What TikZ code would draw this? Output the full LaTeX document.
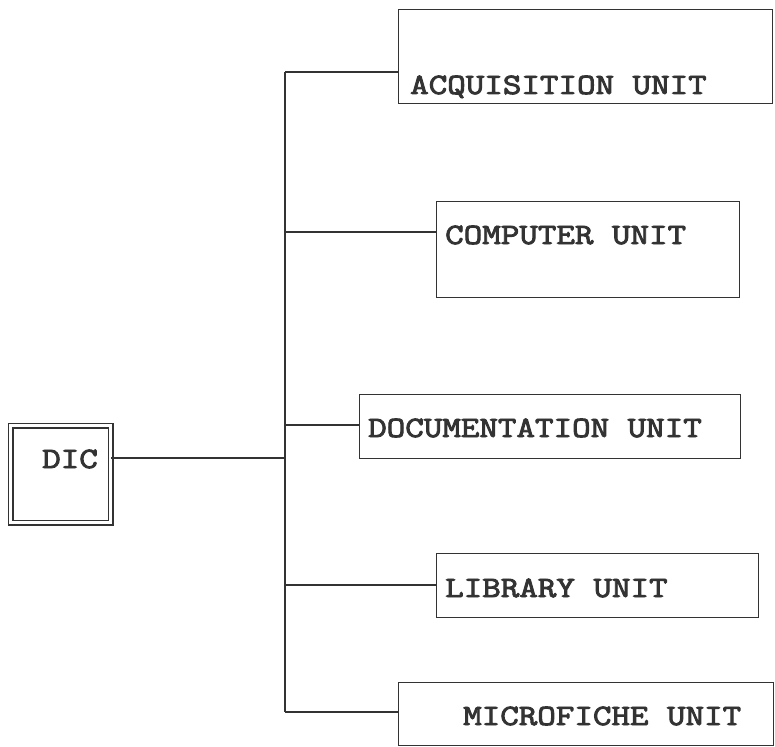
\documentclass[tikz,border=0pt]{standalone}
\usepackage{fontspec}
\newfontfamily\typer{Latin Modern Mono}[FakeStretch=1.22, FakeBold=3.2]
\definecolor{ink}{HTML}{333333}
\tikzset{
  unitbox/.style={draw=ink, line width=1.3pt, rectangle, inner sep=0pt, anchor=north west},
  headbox/.style={draw=ink, line width=1.1pt, double, double distance=3.8pt, rectangle, inner sep=0pt},
  lbl/.style={text=ink, inner sep=0pt, anchor=base west, font=\typer\fontsize{29.5}{31}\selectfont},
  wire/.style={draw=ink, line width=1.3pt}
}
\begin{document}
\begin{tikzpicture}[x=1pt, y=-1pt]
  \useasboundingbox (0,0) rectangle (775,746);

  % head office
  \node[headbox, minimum width=100pt, minimum height=97pt] (dic) at (60.5,474) {};
  \node[lbl] (dict) at (42,468) {DIC};

  % unit boxes
  \node[unitbox, minimum width=374pt, minimum height=94pt] (acq) at (398,9) {};
  \node[unitbox, minimum width=303pt, minimum height=96pt] (comp) at (436,201) {};
  \node[unitbox, minimum width=381pt, minimum height=64pt] (doc) at (359,394) {};
  \node[unitbox, minimum width=322pt, minimum height=64pt] (lib) at (436,553) {};
  \node[unitbox, minimum width=375pt, minimum height=63pt] (mic) at (398,682) {};

  % unit labels
  \node[lbl] (acqt) at (410,94) {ACQUISITION UNIT};
  \node[lbl] (compt) at (445,244) {COMPUTER UNIT};
  \node[lbl] (doct) at (368,437) {DOCUMENTATION UNIT};
  \node[lbl] (libt) at (445,597) {LIBRARY UNIT};
  \node[lbl] (mict) at (463,725) {MICROFICHE UNIT};

  % trunk and branch points
  \coordinate (t1) at (285,72);
  \coordinate (t2) at (285,232);
  \coordinate (t3) at (285,425);
  \coordinate (td) at (285,458);
  \coordinate (t4) at (285,585);
  \coordinate (t5) at (285,712);

  \draw[wire] (t1) -- (t5);
  \draw[wire] (dic.east |- td) -- (td);
  \draw[wire] (t1) -- (t1 -| acq.west);
  \draw[wire] (t2) -- (t2 -| comp.west);
  \draw[wire] (t3) -- (t3 -| doc.west);
  \draw[wire] (t4) -- (t4 -| lib.west);
  \draw[wire] (t5) -- (t5 -| mic.west);
\end{tikzpicture}
\end{document}
